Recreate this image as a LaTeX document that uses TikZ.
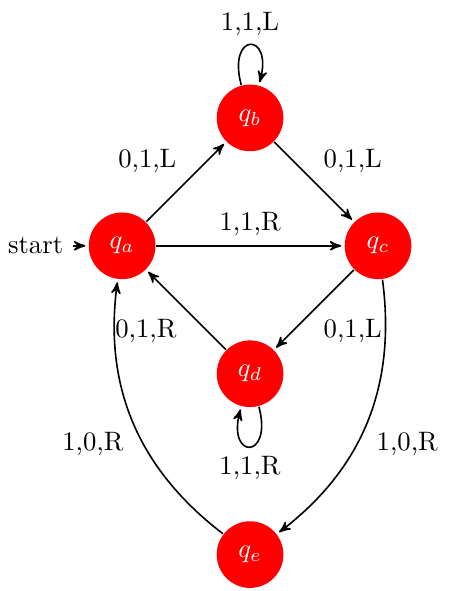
\documentclass[tikz,border=0pt]{standalone}
\usepackage{amsmath, amssymb}
\usepackage{xcolor}
\usetikzlibrary{arrows}

\begin{document}
\begin{tikzpicture}[>=stealth', shorten >=1pt, auto, semithick,
    tmstate/.style={circle, fill=red, text=white, minimum size=2.5em, inner sep=1pt}]
    \useasboundingbox (-1.61,-4.55) rectangle (4.32,3.24);
    \node[tmstate] (qa) at (0,0) {$q_a$};
    \node[tmstate] (qb) at (1.686,1.686) {$q_b$};
    \node[tmstate] (qc) at (3.373,0) {$q_c$};
    \node[tmstate] (qd) at (1.686,-1.686) {$q_d$};
    \node[tmstate] (qe) at (1.686,-4.07) {$q_e$};
    \node[anchor=east] (start) at (-0.65,0) {start};
    \draw[->] (start) -- (qa);
    \draw[->] (qa) -- node {0,1,L} (qb);
    \draw[->] (qa) -- node {1,1,R} (qc);
    \draw[->] (qb) to[loop above] node {1,1,L} (qb);
    \draw[->] (qb) -- node {0,1,L} (qc);
    \draw[->] (qc) -- node {0,1,L} (qd);
    \draw[->] (qc) to[bend left] node {1,0,R} (qe);
    \draw[->] (qd) to[loop below] node {1,1,R} (qd);
    \draw[->] (qd) -- node {0,1,R} (qa);
    \draw[->] (qe) to[bend left] node {1,0,R} (qa);
\end{tikzpicture}
\end{document}
